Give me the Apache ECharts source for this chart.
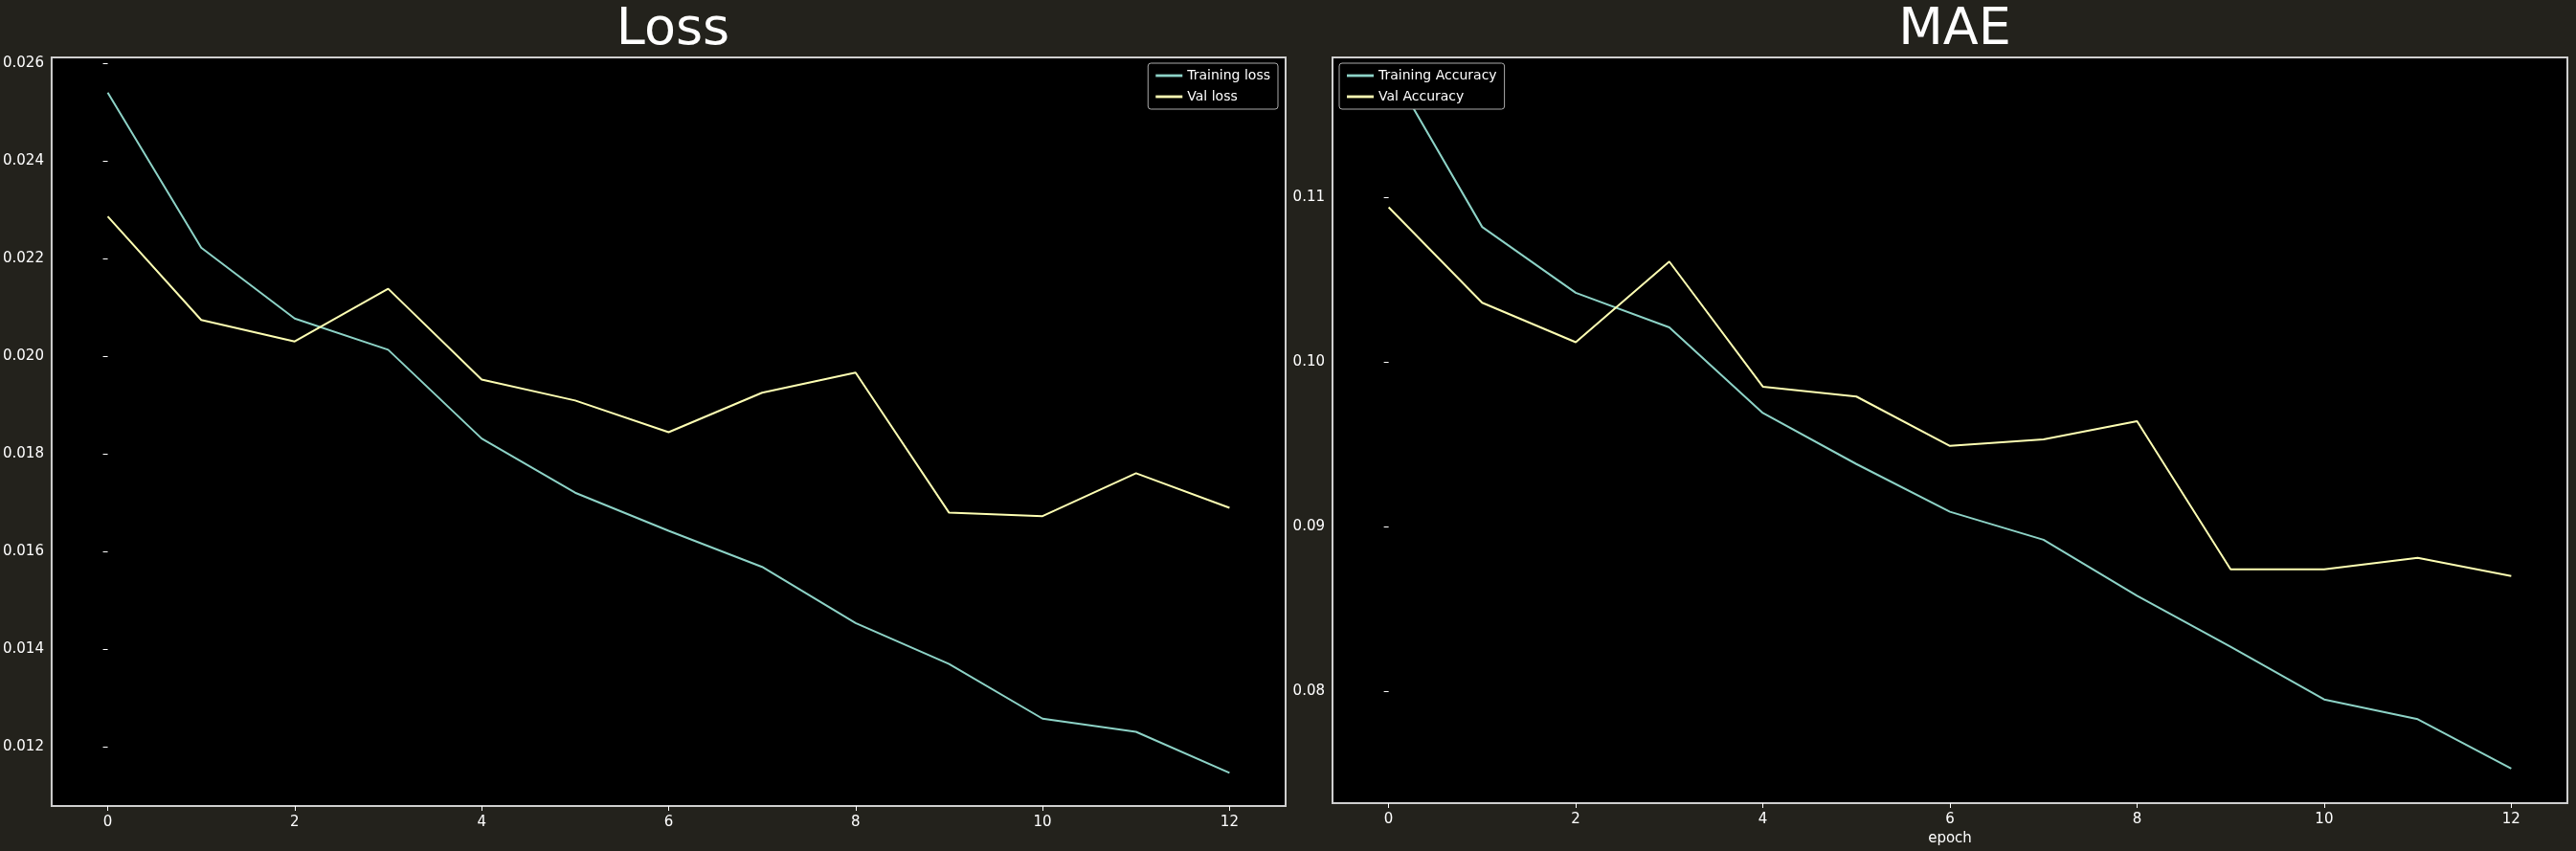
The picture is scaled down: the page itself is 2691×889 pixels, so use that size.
<!DOCTYPE html>
<html>
<head>
<meta charset="utf-8">
<script src="https://cdn.jsdelivr.net/npm/echarts@6/dist/echarts.min.js"></script>
<style>
  html, body { margin: 0; padding: 0; background: #23221c; }
  #chart { width: 2691px; height: 889px; }
</style>
</head>
<body>
<div id="chart"></div>
<script>
const epochs = [0, 1, 2, 3, 4, 5, 6, 7, 8, 9, 10, 11, 12];
const trainLoss = [0.0254, 0.02222, 0.02077, 0.02013, 0.01831, 0.0172, 0.01642, 0.01568, 0.01453, 0.01369, 0.01257, 0.0123, 0.01146];
const valLoss = [0.02286, 0.02074, 0.0203, 0.02138, 0.01952, 0.01909, 0.01844, 0.01925, 0.01966, 0.01679, 0.01672, 0.0176, 0.01689];
const trainMae = [0.118, 0.1082, 0.1042, 0.1021, 0.0969, 0.0938, 0.0909, 0.0892, 0.0858, 0.0827, 0.0795, 0.0783, 0.0753];
const valMae = [0.1094, 0.1036, 0.1012, 0.1061, 0.0985, 0.0979, 0.0949, 0.0953, 0.0964, 0.0874, 0.0874, 0.0881, 0.087];
const xTicks = [0, 2, 4, 6, 8, 10, 12];
const lossTicks = [0.012, 0.014, 0.016, 0.018, 0.020, 0.022, 0.024, 0.026];
const maeTicks = [0.08, 0.09, 0.10, 0.11];

const FONT = "DejaVu Sans";
const TEAL = "#8dd3c7";
const YELLOW = "#feffb3";
const txt = { color: "#ffffff", fontFamily: FONT, fontSize: 15 };

function pairs(ys) {
  return epochs.map((e, i) => [e, ys[i]]);
}

function xAxis(gridIndex, name) {
  return {
    type: "value", gridIndex, min: -0.6, max: 12.6,
    name: name || "", nameLocation: "middle", nameGap: 30,
    nameTextStyle: txt,
    axisLine: { show: false },
    splitLine: { show: false },
    axisTick: { show: true, customValues: xTicks, length: 5, lineStyle: { color: "#fff" } },
    axisLabel: { ...txt, customValues: xTicks, margin: 10 },
  };
}

function yAxis(gridIndex, min, max, ticks, digits) {
  return {
    type: "value", gridIndex, min, max,
    axisLine: { show: false },
    splitLine: { show: false },
    axisTick: { show: true, customValues: ticks, length: 5, lineStyle: { color: "#fff" } },
    axisLabel: { ...txt, customValues: ticks, margin: 8, formatter: (v) => v.toFixed(digits) },
  };
}

function line(name, ys, color, idx) {
  return {
    type: "line", name, xAxisIndex: idx, yAxisIndex: idx,
    data: pairs(ys), showSymbol: false, symbol: "none",
    lineStyle: { width: 2, color }, itemStyle: { color },
  };
}

function legend(names, pos) {
  return {
    data: names, orient: "vertical", ...pos,
    icon: "path://M0,0H30V3H0Z", itemWidth: 28, itemHeight: 3, itemGap: 8,
    textStyle: { ...txt, fontSize: 14 },
    backgroundColor: "#000", borderColor: "#aaa", borderWidth: 1, borderRadius: 3,
    padding: [6, 8],
  };
}

const chart = echarts.init(document.getElementById("chart"));
chart.setOption({
  backgroundColor: "#23221c",
  animation: false,
  title: [
    { text: "Loss", left: 698, top: 0, textAlign: "center", textStyle: { color: "#fff", fontFamily: FONT, fontSize: 54, fontWeight: "normal" } },
    { text: "MAE", left: 2037, top: 0, textAlign: "center", textStyle: { color: "#fff", fontFamily: FONT, fontSize: 54, fontWeight: "normal" } },
  ],
  grid: [
    { left: 53, right: 1348, top: 60, bottom: 47, show: true, backgroundColor: "#000", borderColor: "#cfcfcf", borderWidth: 2 },
    { left: 1392, right: 9, top: 60, bottom: 47, show: true, backgroundColor: "#000", borderColor: "#cfcfcf", borderWidth: 2 },
  ],
  xAxis: [xAxis(0), xAxis(1, "epoch")],
  yAxis: [
    yAxis(0, 0.01078, 0.02612, lossTicks, 3),
    yAxis(1, 0.0732, 0.1185, maeTicks, 2),
  ],
  legend: [
    legend(["Training loss", "Val loss"], { right: 1356, top: 66 }),
    legend(["Training Accuracy", "Val Accuracy"], { left: 1399, top: 66 }),
  ],
  series: [
    line("Training loss", trainLoss, TEAL, 0),
    line("Val loss", valLoss, YELLOW, 0),
    line("Training Accuracy", trainMae, TEAL, 1),
    line("Val Accuracy", valMae, YELLOW, 1),
  ],
});
</script>
</body>
</html>
